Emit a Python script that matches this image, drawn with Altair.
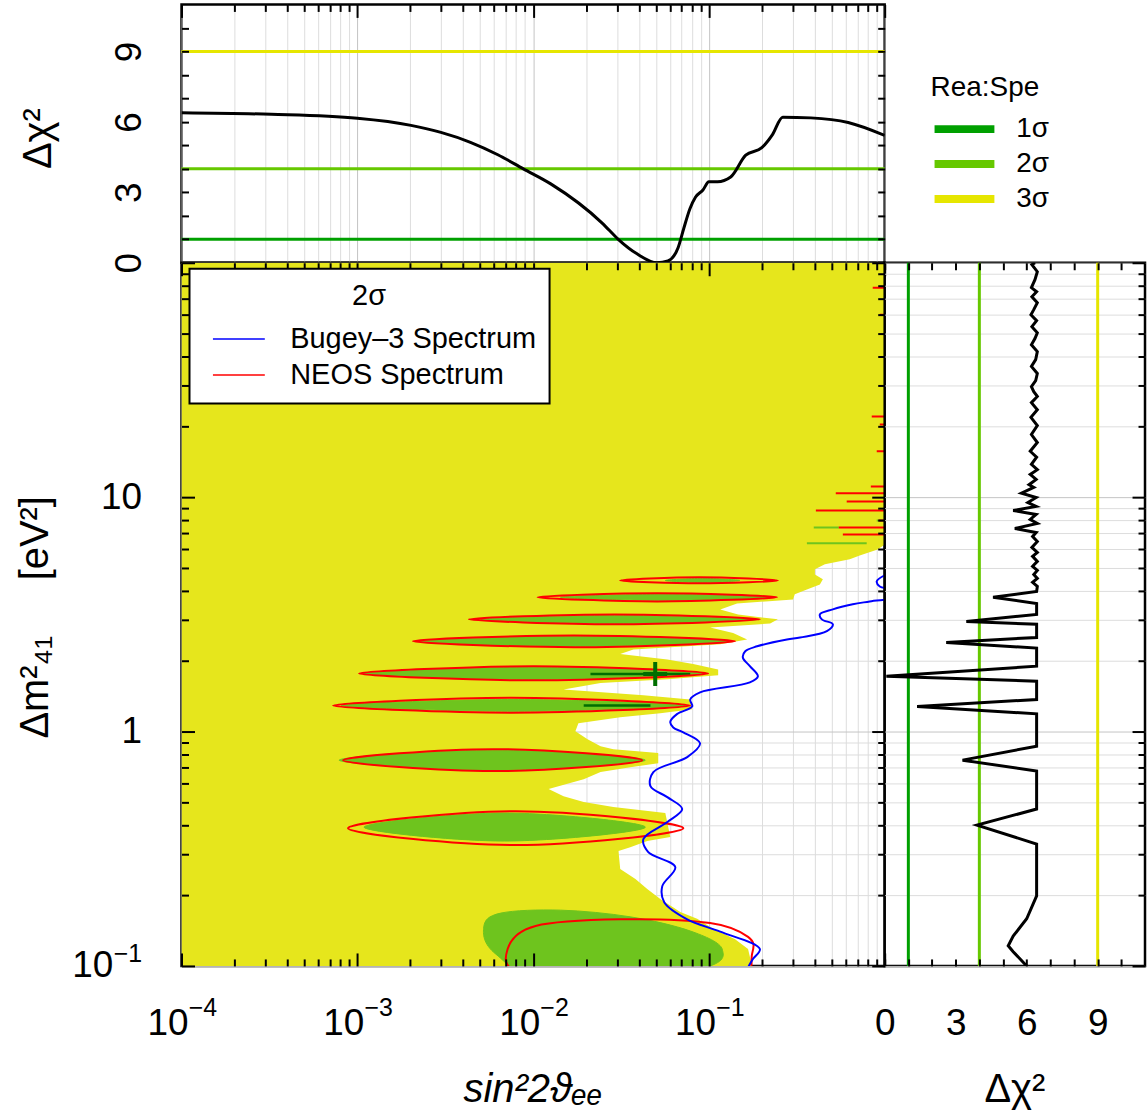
import altair as alt
import pandas as pd

FONT = "Liberation Sans"
YELLOW = "#e6e61c"
GREEN = "#6ec41e"
DARK_GREEN = "#006e00"
BLUE = "#0000ff"
RED = "#ff0000"
GRID_MINOR = "#dddddd"
GRID_MAJOR = "#c4c4c4"
NBSP = "\u00a0"

# ---------------- data ----------------
# top panel: delta chi^2 profile versus sin^2(2 theta_ee)
TOP_SIN2 = [1e-4, 3.24e-4, 1e-3, 2.02e-3, 2.99e-3, 4.4e-3, 6.3e-3, 8.8e-3, 0.0126,
            0.0248, 0.0305, 0.039, 0.0507, 0.0585, 0.0667, 0.072, 0.078, 0.084, 0.0925,
            0.100, 0.112, 0.133, 0.162, 0.200, 0.230, 0.263, 0.38, 0.62, 1.0]
TOP_CHI2 = [6.39, 6.32, 6.15, 5.85, 5.55, 5.13, 4.60, 4.00, 3.36,
            1.68, 1.00, 0.38, 0.0, 0.08, 0.63, 1.47, 2.30, 2.80, 3.10,
            3.45, 3.45, 3.65, 4.58, 4.90, 5.46, 6.20, 6.17, 5.97, 5.42]

# right panel: delta chi^2 profile versus delta m^2_41
RIGHT_DM2 = [100, 98.1, 91.6, 84.7, 78.3, 75.2, 71.6, 67.5, 63.1, 60.0, 56.6, 53.4, 50.3,
             47.5, 44.7, 41.8, 38.6, 36.1, 33.7, 31.4, 29.6, 28.2, 26.9, 25.3, 23.6, 21.9,
             20.2, 18.5, 17.1, 15.7, 14.8, 13.8, 13.1, 12.5, 11.9, 11.3, 11.0, 10.4, 9.97,
             9.49, 9.13, 8.77, 8.44, 8.03, 7.72, 7.35, 7.07, 6.80, 6.47, 6.10, 5.81, 5.59,
             5.32, 5.07, 4.87, 4.68, 4.50, 4.33, 4.16, 3.96, 3.74, 3.52, 3.16, 2.95, 2.87,
             2.52, 2.40, 2.27, 1.90, 1.72, 1.64, 1.37, 1.28, 1.19, 0.866, 0.755, 0.678,
             0.467, 0.399, 0.331, 0.199, 0.159, 0.134, 0.122, 0.115, 0.100]
RIGHT_CHI2 = [6.35, 6.22, 6.45, 6.35, 6.20, 6.42, 6.22, 6.45, 6.30, 6.18, 6.42, 6.22, 6.45,
              6.35, 6.20, 6.45, 6.38, 6.20, 6.45, 6.38, 6.20, 6.30, 6.45, 6.20, 6.45, 6.18,
              6.45, 6.20, 6.45, 6.15, 6.42, 6.20, 6.45, 6.15, 6.40, 6.10, 6.30, 5.78, 6.40,
              6.05, 6.40, 5.43, 6.40, 6.15, 6.45, 5.50, 6.40, 6.25, 6.45, 6.22, 6.45, 6.25,
              6.45, 6.25, 6.45, 6.30, 6.45, 6.25, 6.45, 6.42, 4.58, 6.42, 6.42, 3.45, 6.42,
              6.42, 2.60, 6.42, 6.42, 0.07, 6.42, 6.42, 1.37, 6.42, 6.42, 3.29, 6.42,
              6.42, 3.90, 6.42, 6.42, 6.00, 5.43, 5.22, 5.43, 6.00]

LEVEL_NAMES = ["1σ", "2σ", "3σ"]
LEVEL_CHI2 = [1, 4, 9]
LEVEL_COLORS = ["#00a000", "#66c800", "#e6e600"]

# 3 sigma allowed region (yellow): right boundary in sin^2 for each delta m^2
YELLOW_DM2 = [100, 6.28, 5.98, 5.64, 5.43, 5.17, 4.92, 4.68, 4.46, 4.24, 4.04, 3.85, 3.66,
              3.52, 3.32, 3.16, 3.01, 2.89, 2.78, 2.63, 2.47, 2.36, 2.24, 2.14, 2.03, 1.94,
              1.84, 1.74, 1.67, 1.61, 1.51, 1.43, 1.37, 1.245, 1.197, 1.15, 1.085, 1.003,
              0.927, 0.866, 0.841, 0.809, 0.733, 0.705, 0.672, 0.626, 0.568, 0.530, 0.500,
              0.476, 0.449, 0.355, 0.341, 0.321, 0.309, 0.259, 0.235, 0.213, 0.193, 0.170,
              0.159, 0.144, 0.130, 0.118, 0.100]
YELLOW_SIN2 = [1.0, 1.0, 0.912, 0.721, 0.633, 0.457, 0.401, 0.401, 0.445, 0.428, 0.361, 0.308,
               0.301, 0.1446, 0.116, 0.1466, 0.247, 0.223, 0.1016, 0.1373, 0.165, 0.116, 0.0372,
               0.0313, 0.0580, 0.0814, 0.1129, 0.1129, 0.0580, 0.0242, 0.0149, 0.0424, 0.0783,
               0.0804, 0.0529, 0.0313, 0.0181, 0.0174, 0.0204, 0.0242, 0.0286, 0.0515, 0.0515,
               0.0357, 0.0242, 0.0194, 0.01225, 0.0149, 0.0194, 0.0286, 0.0565, 0.0603, 0.0446,
               0.0357, 0.0306, 0.0313, 0.0382, 0.0446, 0.0529, 0.0687, 0.0857, 0.1057, 0.141,
               0.167, 0.176]

# NEOS 2 sigma contours (red): points around each island (sin2, dm2)
NEOS_CONTOURS = [
    [(0.0313, 4.41), (0.0881, 4.55), (0.247, 4.41), (0.0881, 4.29)],
    [(0.0106, 3.74), (0.0508, 3.89), (0.244, 3.74), (0.0508, 3.59)],
    [(4.31e-3, 3.01), (0.0290, 3.16), (0.195, 3.01), (0.0290, 2.87)],
    [(2.07e-3, 2.43), (0.0171, 2.57), (0.141, 2.43), (0.0171, 2.29)],
    [(1.023e-3, 1.77), (0.01007, 1.90), (0.0991, 1.77), (0.01007, 1.654)],
    [(7.28e-4, 1.29), (7.55e-3, 1.394), (0.0783, 1.29), (7.55e-3, 1.203)],
    [(8.30e-4, 0.755), (5.89e-3, 0.841), (0.0418, 0.755), (5.89e-3, 0.678)],
    [(8.86e-4, 0.387), (7.96e-3, 0.457), (0.0715, 0.387), (7.96e-3, 0.328)],
    [(7.16e-3, 0.118), (0.01033, 0.148), (0.0313, 0.158), (0.1016, 0.1525), (0.167, 0.133),
     (0.176, 0.1125), (0.141, 0.0838), (0.0313, 0.076), (8.49e-3, 0.0924)],
]
# combined 2 sigma islands (green)
GREEN_REGIONS = [
    [(0.0565, 4.41), (0.0921, 4.50), (0.150, 4.41), (0.0921, 4.33)],
    [(0.0143, 3.74), (0.0565, 3.85), (0.223, 3.74), (0.0565, 3.63)],
    [(5.04e-3, 3.01), (0.0308, 3.13), (0.188, 3.01), (0.0308, 2.89)],
    [(2.30e-3, 2.43), (0.0174, 2.55), (0.132, 2.43), (0.0174, 2.31)],
    [(1.078e-3, 1.77), (0.0101, 1.88), (0.0953, 1.77), (0.0101, 1.67)],
    [(8.09e-4, 1.29), (7.70e-3, 1.37), (0.0733, 1.29), (7.70e-3, 1.22)],
    [(7.88e-4, 0.755), (5.85e-3, 0.833), (0.0435, 0.755), (5.85e-3, 0.684)],
    [(1.092e-3, 0.391), (6.89e-3, 0.449), (0.0435, 0.391), (6.89e-3, 0.341)],
    [(5.24e-3, 0.1466), (6.54e-3, 0.168), (0.0143, 0.173), (0.0357, 0.162), (0.0783, 0.141),
     (0.119, 0.118), (0.0891, 0.0971), (0.0143, 0.0798), (6.12e-3, 0.1125)],
]

# Bugey-3 2 sigma exclusion curve (blue)
BUGEY_SIN2 = [1.22, 1.0, 0.901, 0.938, 1.22, 1.22, 0.822, 0.658, 0.507, 0.428, 0.439, 0.507,
              0.469, 0.330, 0.278, 0.188, 0.161, 0.156, 0.171, 0.190, 0.171, 0.0891, 0.0783,
              0.0804, 0.0661, 0.0603, 0.0627, 0.0715, 0.0891, 0.0753, 0.0483, 0.0465, 0.0580,
              0.0705, 0.0580, 0.0424, 0.0452, 0.0644, 0.0543, 0.0557, 0.0753, 0.116, 0.195,
              0.178, 0.165]
BUGEY_DM2 = [4.82, 4.64, 4.37, 4.16, 3.96, 3.77, 3.59, 3.49, 3.32, 3.16, 3.01, 2.87, 2.68,
             2.52, 2.47, 2.31, 2.20, 2.07, 1.90, 1.72, 1.62, 1.47, 1.37, 1.28, 1.19, 1.10,
             1.04, 0.993, 0.891, 0.778, 0.672, 0.585, 0.525, 0.467, 0.411, 0.348, 0.306,
             0.264, 0.219, 0.187, 0.158, 0.140, 0.118, 0.107, 0.0971]

BEST_FIT_SIN2 = [0.0495]
BEST_FIT_DM2 = [1.76]
ONE_SIGMA_DM2 = [1.76, 1.29]
ONE_SIGMA_FROM = [0.0212, 0.0194]
ONE_SIGMA_TO = [0.0783, 0.0465]

RED_SLIVER_DM2 = [78.2, 60.0, 22.1, 20.4, 15.7, 11.1, 10.4, 9.59, 8.78, 7.96, 7.43, 6.93]
RED_SLIVER_FROM = [0.855, 0.938, 0.844, 0.938, 0.901, 0.834, 0.527, 0.608, 0.406, 0.924, 0.548, 0.578]
GREEN_SLIVER_DM2 = [7.96, 7.43, 6.36]
GREEN_SLIVER_FROM = [0.901, 0.395, 0.361]
GREEN_SLIVER_TO = [0.975, 0.548, 0.790]

EXP_NAMES = ["Bugey–3 Spectrum", "NEOS Spectrum"]

# axis tick positions and labels
MULT = [2, 3, 4, 5, 6, 7, 8, 9]
X_DEC = [1e-4, 1e-3, 1e-2, 1e-1, 1.0]
X_MINOR = [m * d for d in [1e-4, 1e-3, 1e-2, 1e-1] for m in MULT]
X_LABELS = [1e-4, 1e-3, 1e-2, 1e-1]
X_EXPONENTS = ["−4", "−3", "−2", "−1"]
Y_DEC = [0.1, 1.0, 10.0, 100.0]
Y_MINOR = [m * d for d in [0.1, 1.0, 10.0] for m in MULT]
Y_PLAIN_LABELS = [1.0, 10.0]
Y_POW_LABELS = [0.1]
CHI_TICKS = list(range(0, 11))
CHI_LABELS = [0, 3, 6, 9]

# panel sizes (plot areas)
MAIN_W, MAIN_H = 705, 705
TOP_H = 259
RIGHT_W = 261

# ---------------- tables ----------------
top_df = pd.DataFrame({"s": TOP_SIN2, "c": TOP_CHI2})
right_df = pd.DataFrame({"m": RIGHT_DM2, "c": RIGHT_CHI2, "o": list(range(len(RIGHT_DM2)))})
lvl_df = pd.DataFrame({"lvl": LEVEL_NAMES, "c": LEVEL_CHI2, "col": LEVEL_COLORS})
yellow_df = pd.DataFrame({"m": YELLOW_DM2, "s": YELLOW_SIN2, "s0": [1e-4] * len(YELLOW_DM2)})


def shapes_df(shapes, tag, exp):
    rows = []
    for i, pts in enumerate(shapes):
        for j, (s, m) in enumerate(pts):
            rows.append({"id": f"{tag}{i}", "o": j, "s": s, "m": m, "exp": exp})
    return pd.DataFrame(rows)


neos_df = shapes_df(NEOS_CONTOURS, "n", EXP_NAMES[1])
green_df = shapes_df(GREEN_REGIONS, "g", "")
bugey_df = pd.DataFrame({"s": BUGEY_SIN2, "m": BUGEY_DM2, "o": list(range(len(BUGEY_SIN2))),
                         "exp": [EXP_NAMES[0]] * len(BUGEY_SIN2)})
best_df = pd.DataFrame({"s": BEST_FIT_SIN2, "m": BEST_FIT_DM2})
one_df = pd.DataFrame({"m": ONE_SIGMA_DM2, "s": ONE_SIGMA_FROM, "e": ONE_SIGMA_TO})
rsl_df = pd.DataFrame({"m": RED_SLIVER_DM2, "s": RED_SLIVER_FROM, "e": [1.0] * len(RED_SLIVER_DM2)})
gsl_df = pd.DataFrame({"m": GREEN_SLIVER_DM2, "s": GREEN_SLIVER_FROM, "e": GREEN_SLIVER_TO})

# ---------------- scales ----------------
XS = alt.Scale(type="log", domain=[1e-4, 1.0], nice=False)
YS = alt.Scale(type="log", domain=[0.1, 100.0], nice=False)
CT = alt.Scale(domain=[0, 11], nice=False, zero=False)
CR = alt.Scale(domain=[0, 11], nice=False, zero=False)


def axis_layer(ch, scale, values, other_scale, other_value, **kw):
    """Invisible layer that only carries an axis; it encodes both position channels so the
    axis always has a grid scale."""
    kw.setdefault("minExtent", 0)
    df = pd.DataFrame({"v": [values[0]], "w": [other_value]})
    if ch == "x":
        enc = dict(x=alt.X("v:Q", scale=scale, axis=alt.Axis(values=values, **kw)),
                   y=alt.Y("w:Q", scale=other_scale, axis=None))
    else:
        enc = dict(y=alt.Y("v:Q", scale=scale, axis=alt.Axis(values=values, **kw)),
                   x=alt.X("w:Q", scale=other_scale, axis=None))
    return alt.Chart(df).mark_point(opacity=0).encode(**enc)


def tick_layer(ch, scale, values, other_scale, other_value, side, length, span):
    """Inward-pointing ticks on one side of a panel (span = panel height or width)."""
    if side == "bottom":
        orient, offset = "bottom", -length
    elif side == "top":
        orient, offset = "bottom", -span
    elif side == "left":
        orient, offset = "left", -length
    else:
        orient, offset = "left", -span
    return axis_layer(ch, scale, values, other_scale, other_value, orient=orient, ticks=True,
                      tickSize=length, offset=offset, tickColor="black", tickWidth=2,
                      labels=False, domain=False, grid=False, title=None, zindex=2)


def grid_layer(ch, scale, values, other_scale, other_value, orient, color):
    return axis_layer(ch, scale, values, other_scale, other_value, orient=orient, ticks=False,
                      labels=False, domain=False, grid=True, gridColor=color, gridWidth=1,
                      title=None, zindex=0)


def label_layer(ch, scale, values, other_scale, other_value, orient, expr, size, pad, shift,
                **kw):
    return axis_layer(ch, scale, values, other_scale, other_value, orient=orient, ticks=False,
                      tickSize=0, domain=False, grid=False, labelExpr=expr, labelFontSize=size,
                      labelPadding=pad, labelOffset=shift, labelFlush=False, labelOverlap=False,
                      **kw)


# ---------------- top panel ----------------
top_levels = alt.Chart(lvl_df).mark_rule(strokeWidth=3).encode(
    y=alt.Y("c:Q", scale=CT, axis=None), color=alt.Color("col:N", scale=None))
top_curve = alt.Chart(top_df).mark_line(color="black", strokeWidth=3, interpolate="monotone",
                                        clip=True).encode(
    x=alt.X("s:Q", scale=XS, axis=None), y=alt.Y("c:Q", scale=CT, axis=None))
top_ylab = label_layer("y", CT, CHI_LABELS, XS, 0.01, "left", "datum.label", 37, 52, 0,
                       labelAngle=270, labelAlign="center", labelBaseline="middle",
                       title="Δχ²", titleFontSize=40, titleAngle=270, titleX=-143, titleY=134,
                       titleBaseline="middle", titleAlign="center")

top = alt.layer(
    grid_layer("x", XS, X_MINOR, CT, 5, "bottom", GRID_MINOR),
    grid_layer("x", XS, X_DEC, CT, 5, "bottom", GRID_MAJOR),
    top_ylab, top_levels, top_curve,
    tick_layer("x", XS, X_DEC, CT, 5, "top", 13, TOP_H),
    tick_layer("x", XS, X_MINOR, CT, 5, "top", 7, TOP_H),
    tick_layer("y", CT, CHI_TICKS, XS, 0.01, "left", 7, MAIN_W),
    tick_layer("y", CT, CHI_TICKS, XS, 0.01, "right", 7, MAIN_W),
).resolve_axis(x="independent", y="independent").properties(width=MAIN_W, height=TOP_H)

# ---------------- legend cell (top right) ----------------
lvl_legend = alt.Legend(title="Rea:Spe", orient="none", legendX=46, legendY=70, padding=0,
                        titleFontSize=28, titleFontWeight="normal", labelFontSize=28,
                        titlePadding=13, rowPadding=3, symbolType="M-3,0L3,0", symbolSize=400,
                        symbolStrokeWidth=8, symbolOffset=20, labelOffset=38, symbolOpacity=1)
legend_cell = alt.Chart(lvl_df).mark_rule(opacity=0).encode(
    y=alt.Y("c:Q", scale=CT, axis=None),
    color=alt.Color("lvl:N", scale=alt.Scale(domain=LEVEL_NAMES, range=LEVEL_COLORS),
                    legend=lvl_legend)
).properties(width=RIGHT_W, height=TOP_H, view=alt.ViewBackground(stroke="transparent"))

# ---------------- main panel ----------------
exp_scale = alt.Scale(domain=EXP_NAMES, range=[BLUE, RED])
exp_legend = alt.Legend(title="2σ", orient="none", legendX=8, legendY=6, padding=13,
                        fillColor="white", strokeColor="black", titleAnchor="middle",
                        titleFontSize=29, titleFontWeight="normal", labelFontSize=29,
                        labelLimit=400, titlePadding=14, rowPadding=6,
                        symbolType="M-2.6,0L2.6,0", symbolSize=400, symbolStrokeWidth=1.5,
                        symbolOffset=22, labelOffset=37, zindex=3)

XE = alt.X("s:Q", scale=XS, axis=None)
YE = alt.Y("m:Q", scale=YS, axis=None)

yellow = alt.Chart(yellow_df).mark_area(orient="horizontal", color=YELLOW, clip=True).encode(
    y=YE, x=XE, x2="s0:Q")
green = alt.Chart(green_df).mark_line(interpolate="cardinal-closed", clip=True, fill=GREEN,
                                      stroke=GREEN, strokeWidth=1).encode(
    x=XE, y=YE, detail="id:N", order="o:Q")
one_sigma = alt.Chart(one_df).mark_rule(color=DARK_GREEN, strokeWidth=2.5).encode(
    x=XE, x2="e:Q", y=YE)
green_sl = alt.Chart(gsl_df).mark_rule(color=GREEN, strokeWidth=2, clip=True).encode(
    x=XE, x2="e:Q", y=YE)
neos = alt.Chart(neos_df).mark_line(interpolate="cardinal-closed", clip=True, strokeWidth=2).encode(
    x=XE, y=YE, detail="id:N", order="o:Q",
    color=alt.Color("exp:N", scale=exp_scale, legend=exp_legend))
red_sl = alt.Chart(rsl_df).mark_rule(color=RED, strokeWidth=2, clip=True).encode(
    x=XE, x2="e:Q", y=YE)
bugey = alt.Chart(bugey_df).mark_line(interpolate="catmull-rom", clip=True, strokeWidth=2).encode(
    x=XE, y=YE, order="o:Q",
    color=alt.Color("exp:N", scale=exp_scale, legend=exp_legend))
best = alt.Chart(best_df).mark_point(shape="M-1,0L1,0M0,-1L0,1", size=576, strokeWidth=4,
                                     filled=False, color=DARK_GREEN, opacity=1).encode(x=XE, y=YE)

x_exp_expr = ("datum.value < 0.0005 ? '%s' : datum.value < 0.005 ? '%s' : "
              "datum.value < 0.05 ? '%s' : '%s'") % tuple(X_EXPONENTS)

main_xlab = label_layer("x", XS, X_LABELS, YS, 1.0, "bottom", "'10'", 37, 40, -14,
                        title="sin²2ϑₑₑ", titleFontSize=40, titleFontStyle="italic",
                        titleX=352, titleY=136, titleBaseline="alphabetic", titleAlign="center")
main_xexp = label_layer("x", XS, X_LABELS, YS, 1.0, "bottom", x_exp_expr, 25, 30, 21,
                        title=None)
main_ylab = label_layer("y", YS, Y_PLAIN_LABELS, XS, 0.01, "left",
                        "datum.value < 5 ? '1' : '10'", 37, 40, 0,
                        title="Δm²₄₁" + NBSP * 5 + "[eV²]", titleFontSize=40, titleAngle=270,
                        titleX=-146, titleY=355, titleBaseline="middle", titleAlign="center")
main_ypow = label_layer("y", YS, Y_POW_LABELS, XS, 0.01, "left", "'10'", 37, 69, 0, title=None)
main_yexp = label_layer("y", YS, Y_POW_LABELS, XS, 0.01, "left", "'−1'", 25, 40, -12,
                        title=None)
main_xgrid = grid_layer("x", XS, X_DEC, YS, 1.0, "bottom", GRID_MAJOR)
main_ygrid = grid_layer("y", YS, Y_DEC, XS, 0.01, "left", GRID_MAJOR)

main = alt.layer(
    grid_layer("x", XS, X_MINOR, YS, 1.0, "bottom", GRID_MINOR),
    grid_layer("y", YS, Y_MINOR, XS, 0.01, "left", GRID_MINOR),
    main_xgrid, main_ygrid,
    main_xlab, main_xexp, main_ylab, main_ypow, main_yexp,
    yellow, green, one_sigma, green_sl, neos, red_sl, bugey, best,
    tick_layer("x", XS, X_DEC, YS, 1.0, "bottom", 13, MAIN_H),
    tick_layer("x", XS, X_MINOR, YS, 1.0, "bottom", 7, MAIN_H),
    tick_layer("x", XS, X_DEC, YS, 1.0, "top", 13, MAIN_H),
    tick_layer("x", XS, X_MINOR, YS, 1.0, "top", 7, MAIN_H),
    tick_layer("y", YS, Y_DEC, XS, 0.01, "left", 13, MAIN_W),
    tick_layer("y", YS, Y_MINOR, XS, 0.01, "left", 7, MAIN_W),
    tick_layer("y", YS, Y_DEC, XS, 0.01, "right", 13, MAIN_W),
    tick_layer("y", YS, Y_MINOR, XS, 0.01, "right", 7, MAIN_W),
).resolve_axis(x="independent", y="independent").properties(width=MAIN_W, height=MAIN_H)

# ---------------- right panel ----------------
right_levels = alt.Chart(lvl_df).mark_rule(strokeWidth=3).encode(
    x=alt.X("c:Q", scale=CR, axis=None), color=alt.Color("col:N", scale=None))
right_curve = alt.Chart(right_df).mark_line(color="black", strokeWidth=3, clip=True).encode(
    x=alt.X("c:Q", scale=CR, axis=None), y=alt.Y("m:Q", scale=YS, axis=None), order="o:Q")
right_xlab = label_layer("x", CR, CHI_LABELS, YS, 1.0, "bottom", "datum.label", 37, 40, 0,
                         title="Δχ²", titleFontSize=40, titleX=130, titleY=136,
                         titleBaseline="alphabetic", titleAlign="center")

right = alt.layer(
    grid_layer("y", YS, Y_MINOR, CR, 5, "left", GRID_MINOR),
    grid_layer("y", YS, Y_DEC, CR, 5, "left", GRID_MAJOR),
    right_xlab, right_levels, right_curve,
    tick_layer("x", CR, CHI_TICKS, YS, 1.0, "bottom", 7, MAIN_H),
    tick_layer("x", CR, CHI_TICKS, YS, 1.0, "top", 7, MAIN_H),
    tick_layer("y", YS, Y_DEC, CR, 5, "right", 13, RIGHT_W),
    tick_layer("y", YS, Y_MINOR, CR, 5, "right", 7, RIGHT_W),
).resolve_axis(x="independent", y="independent").properties(width=RIGHT_W, height=MAIN_H)

chart = alt.concat(
    top, legend_cell, main, right, columns=2, spacing=0, bounds="flush", align="each"
).resolve_scale(
    color="independent"
).configure_view(stroke="black", strokeWidth=2.5).configure_axis(
    labelFont=FONT, titleFont=FONT, labelColor="black", titleColor="black",
    titleFontWeight="normal"
).configure_legend(
    labelFont=FONT, titleFont=FONT, labelColor="black", titleColor="black", strokeWidth=2
).properties(padding={"left": 14, "top": 0, "right": 0, "bottom": 0}, background="white")

chart.save("out.html", embed_options={"renderer": "svg", "actions": False})
